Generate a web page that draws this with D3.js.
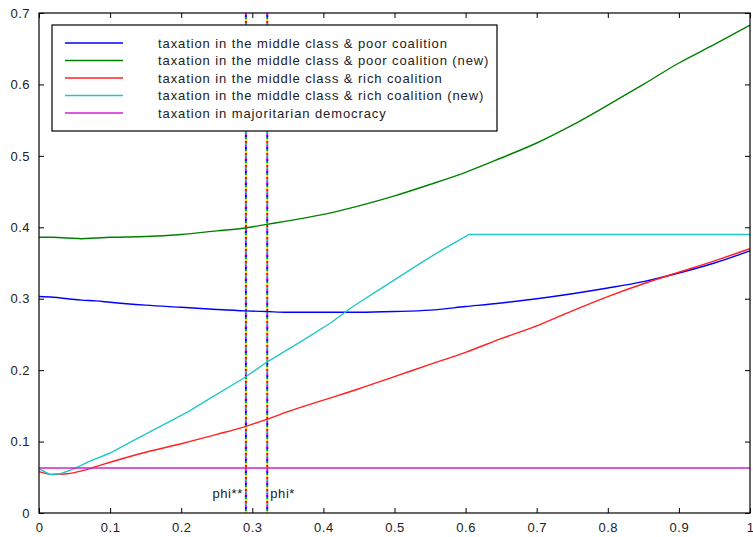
<!DOCTYPE html>
<html>
<head>
<meta charset="utf-8">
<script src="https://d3js.org/d3.v7.min.js"></script>
<style>
  body { margin: 0; background: #fff; overflow: hidden; }
  svg { display: block; }
  text { font-family: "Liberation Sans", Arial, sans-serif; fill: #222; }
</style>
</head>
<body>
<div id="chart"></div>
<script>
// data
var xs = [0, 0.02, 0.04, 0.06, 0.08, 0.1, 0.15, 0.2, 0.25, 0.29, 0.32, 0.35, 0.4, 0.45, 0.5, 0.55, 0.6, 0.65, 0.7, 0.75, 0.8, 0.85, 0.9, 0.95, 1];
var poorCoal    = [0.303, 0.302, 0.300, 0.298, 0.297, 0.295, 0.291, 0.288, 0.285, 0.283, 0.282, 0.281, 0.281, 0.281, 0.282, 0.284, 0.289, 0.294, 0.300, 0.307, 0.315, 0.324, 0.336, 0.350, 0.367];
var poorCoalNew = [0.386, 0.386, 0.385, 0.384, 0.385, 0.386, 0.387, 0.390, 0.395, 0.399, 0.404, 0.409, 0.418, 0.430, 0.444, 0.460, 0.477, 0.497, 0.518, 0.543, 0.571, 0.600, 0.630, 0.656, 0.683];
var richCoal    = [0.058, 0.054, 0.055, 0.059, 0.065, 0.071, 0.085, 0.097, 0.110, 0.121, 0.131, 0.142, 0.158, 0.174, 0.191, 0.208, 0.225, 0.244, 0.262, 0.283, 0.303, 0.321, 0.337, 0.353, 0.370];
var richXs      = [0, 0.015, 0.03, 0.05, 0.07, 0.1, 0.13, 0.17, 0.21, 0.24, 0.29, 0.32, 0.37, 0.41, 0.44, 0.49, 0.54, 0.57, 0.605, 0.65, 0.8, 1];
var richCoalNew = [0.062, 0.054, 0.055, 0.062, 0.072, 0.084, 0.100, 0.121, 0.142, 0.160, 0.190, 0.211, 0.241, 0.266, 0.288, 0.320, 0.352, 0.370, 0.390, 0.390, 0.390, 0.390];
var majority = 0.063;
var phiStar = 0.321, phiStar2 = 0.291;
var xTicks = [0, 0.1, 0.2, 0.3, 0.4, 0.5, 0.6, 0.7, 0.8, 0.9, 1];
var yTicks = [0, 0.1, 0.2, 0.3, 0.4, 0.5, 0.6, 0.7];
var labels = [
  "taxation in the middle class & poor coalition",
  "taxation in the middle class & poor coalition (new)",
  "taxation in the middle class & rich coalition",
  "taxation in the middle class & rich coalition (new)",
  "taxation in majoritarian democracy"
];
var colors = ["#0000ff", "#008000", "#ff2020", "#20c8c8", "#d020d0"];
var dotColors = ["#ff00ff", "#0000ff", "#00a000", "#ffd000", "#ff0000", "#00c0c0"];

var W = 753, H = 537;
var m = {left: 39, right: 750, top: 13, bottom: 513};

var svg = d3.select("#chart").append("svg").attr("width", W).attr("height", H);

var x = d3.scaleLinear().domain([0, 1]).range([m.left, m.right]);
var y = d3.scaleLinear().domain([0, 0.7]).range([m.bottom, m.top]);

// ticks inside on all four sides
svg.append("g").attr("transform", "translate(0," + m.bottom + ")")
  .call(d3.axisBottom(x).tickValues(xTicks).tickSizeInner(-5).tickSizeOuter(0).tickPadding(10).tickFormat(d3.format("")))
  .call(function(g){ g.select(".domain").remove(); });
svg.append("g").attr("transform", "translate(" + m.left + ",0)")
  .call(d3.axisLeft(y).tickValues(yTicks).tickSizeInner(-5).tickSizeOuter(0).tickPadding(9).tickFormat(d3.format("")))
  .call(function(g){ g.select(".domain").remove(); });
svg.append("g").attr("transform", "translate(0," + m.top + ")")
  .call(d3.axisTop(x).tickValues(xTicks).tickSizeInner(-5).tickSizeOuter(0).tickFormat(""))
  .call(function(g){ g.select(".domain").remove(); });
svg.append("g").attr("transform", "translate(" + m.right + ",0)")
  .call(d3.axisRight(y).tickValues(yTicks).tickSizeInner(-5).tickSizeOuter(0).tickFormat(""))
  .call(function(g){ g.select(".domain").remove(); });
svg.selectAll(".tick text").style("font-size", "13px").style("letter-spacing", "0.5px").attr("fill", "#222");
svg.selectAll(".tick line").attr("stroke", "#000");

var smooth = d3.line().x(function(d){ return x(d[0]); }).y(function(d){ return y(d[1]); }).curve(d3.curveMonotoneX);
var straight = d3.line().x(function(d){ return x(d[0]); }).y(function(d){ return y(d[1]); });
var series = [
  d3.zip(xs, poorCoal),
  d3.zip(xs, poorCoalNew),
  d3.zip(xs, richCoal),
  d3.zip(richXs, richCoalNew),
  [[0, majority], [1, majority]]
];

// dotted multicolour vertical lines
[phiStar2, phiStar].forEach(function(p){
  dotColors.forEach(function(c, i){
    svg.append("line")
      .attr("x1", x(p)).attr("x2", x(p)).attr("y1", m.top).attr("y2", m.bottom)
      .attr("stroke", c).attr("stroke-width", 2)
      .attr("stroke-dasharray", "2,10").attr("stroke-dashoffset", -2 * i);
  });
});

svg.selectAll(".series").data(series).enter().append("path")
  .attr("d", function(d, i){ return i === 3 ? straight(d) : smooth(d); })
  .attr("fill", "none")
  .attr("stroke", function(d, i){ return colors[i]; })
  .attr("stroke-width", 1.4);

svg.append("text").attr("x", x(phiStar2) - 3).attr("y", 498).attr("text-anchor", "end")
  .style("font-size", "13px").style("letter-spacing", "0.6px").text("phi**");
svg.append("text").attr("x", x(phiStar) + 3).attr("y", 498)
  .style("font-size", "13px").style("letter-spacing", "0.6px").text("phi*");

// frame
svg.append("rect").attr("x", m.left).attr("y", m.top).attr("width", m.right - m.left).attr("height", m.bottom - m.top)
  .attr("fill", "none").attr("stroke", "#000").attr("stroke-width", 1.2);

// legend
var lg = svg.append("g");
lg.append("rect").attr("x", 52).attr("y", 25).attr("width", 445).attr("height", 106)
  .attr("fill", "#fff").attr("stroke", "#000").attr("stroke-width", 1.2);
labels.forEach(function(t, i){
  var yy = 43 + i * 17.5;
  lg.append("line").attr("x1", 65).attr("x2", 123).attr("y1", yy).attr("y2", yy)
    .attr("stroke", colors[i]).attr("stroke-width", 1.4);
  lg.append("text").attr("x", 158).attr("y", yy + 4.5)
    .style("font-size", "13px").style("letter-spacing", "0.9px").text(t);
});
</script>
</body>
</html>
